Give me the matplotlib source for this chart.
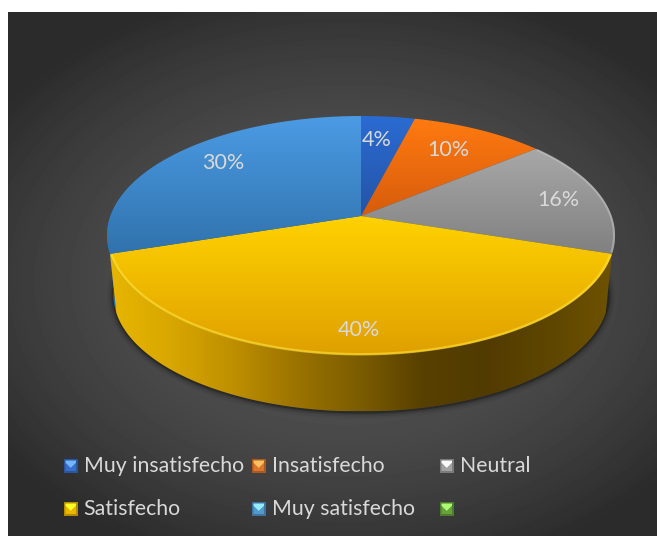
import numpy as np
import matplotlib
matplotlib.use("Agg")
import matplotlib.pyplot as plt
from matplotlib.colors import to_rgb
from matplotlib.patches import Polygon, Rectangle

plt.rcParams['font.family'] = ['Lato', 'DejaVu Sans']

# survey answers, in percent
categories = ["Muy insatisfecho", "Insatisfecho", "Neutral", "Satisfecho", "Muy satisfecho", ""]
values = [4, 10, 16, 40, 30]

# top colour and lower colour of each slice face
top_colors = [("#2b6bd2", "#2454a6"), ("#ff7a10", "#d65c0c"), ("#a8a8a8", "#808080"),
              ("#ffd200", "#dfa000"), ("#4b9be4", "#3072ac")]
legend_colors = ["#3f78dc", "#f08030", "#b0b0b0", "#ffc800", "#5ba5e0", "#70b040"]

# pie geometry in pixels, disc is a circle seen in perspective
CX, CY = 361, 216
R, H, K = 250.6, 116.3, 0.163
LOW_SCALE, LOW_CY = 0.975, 276
TEXT = "#d9d9d9"


def project(theta, scale=1.0, x0=CX, y0=CY):
    t = np.radians(theta)
    u, v = np.sin(t), np.cos(t)
    d = 1 + K * v
    return x0 + scale * R * u / d, y0 - scale * H * v / d


def arc(a, b, scale=1.0, x0=CX, y0=CY):
    return np.column_stack(project(np.linspace(a, b, 120), scale, x0, y0))


def gradient_fill(ax, points, stops, vertical=True):
    # gradient image clipped to a polygon
    xs, ys = points[:, 0], points[:, 1]
    x0, x1, y0, y1 = xs.min(), xs.max(), ys.min(), ys.max()
    pos = np.linspace(0, 1, len(stops))
    rgb = np.array([to_rgb(c) for c in stops])
    t = np.linspace(0, 1, 256)
    ramp = np.column_stack([np.interp(t, pos, rgb[:, i]) for i in range(3)])
    img = ramp[:, None, :] if vertical else ramp[None, :, :]
    im = ax.imshow(img, extent=(x0, x1, y1, y0), origin="upper", aspect="auto",
                   interpolation="bilinear", zorder=3)
    patch = Polygon(points, closed=True, transform=ax.transData, facecolor="none", edgecolor="none")
    ax.add_patch(patch)
    im.set_clip_path(patch)


fig = plt.figure(figsize=(6.57, 5.36), dpi=100, facecolor="white")
ax = fig.add_axes([0, 0, 1, 1])

# dark panel with a soft lighter centre
gx, gy = np.meshgrid(np.arange(8, 657), np.arange(12, 536))
dist = np.sqrt(((gx - 345) / 420) ** 2 + ((gy - 280) / 300) ** 2)
shade = np.clip(0.33 - 0.16 * np.clip(dist, 0, 1) ** 2, 0, 1)
ax.imshow(shade, cmap="gray", vmin=0, vmax=1, extent=(8, 657, 536, 12), aspect="auto", zorder=0)

edges = 360 * np.cumsum([0] + values) / sum(values)

# soft shadow around the base
base = arc(60, 300, LOW_SCALE, CX, LOW_CY)
for lw, alpha in [(9, 0.05), (6, 0.08), (3.5, 0.12), (1.5, 0.25)]:
    ax.plot(base[:, 0], base[:, 1] + 1, color="black", lw=lw, alpha=alpha, zorder=1,
            solid_capstyle="round")

# side walls, only the blue and yellow ones show
blue_wall = np.vstack([arc(edges[4], 300), arc(300, edges[4], LOW_SCALE, CX, LOW_CY)])
ax.add_patch(Polygon(blue_wall, closed=True, facecolor="#2a6ca8", edgecolor="none", zorder=2))
yellow_wall = np.vstack([arc(edges[3], edges[4]), arc(edges[4], edges[3], LOW_SCALE, CX, LOW_CY)])
gradient_fill(ax, yellow_wall, ["#e6b600", "#d8a600", "#bd8e00", "#9a7200", "#7a5c00",
                                "#574000", "#523b00", "#5e4600", "#6e5200"], vertical=False)

# slice faces
for i in range(len(values)):
    face = np.vstack([[CX, CY], arc(edges[i], edges[i + 1])])
    gradient_fill(ax, face, top_colors[i])

# highlights along the rim of the yellow and grey slices
rim = arc(edges[3] + 1, edges[4] - 1, 0.995)
ax.plot(rim[:, 0], rim[:, 1], color="#ffe23a", lw=1.8, alpha=0.6, zorder=4)
rim = arc(edges[2] + 1, edges[3] - 1, 0.996)
ax.plot(rim[:, 0], rim[:, 1], color="#c8c8c8", lw=1.5, alpha=0.5, zorder=4)

# data labels
label_xy = [(377, 140), (448, 150), (558, 200), (359, 330), (223, 163)]
for v, (x, y) in zip(values, label_xy):
    ax.text(x, y, f"{v}%", color=TEXT, fontsize=15.5, ha="center", va="center", zorder=5)

# legend with bevelled markers, three columns and two rows
col_x = [64, 252, 440]
row_y = [459, 502]
M = 13.5
for i, (name, color) in enumerate(zip(categories, legend_colors)):
    x, y = col_x[i % 3], row_y[i // 3]
    c = np.array(to_rgb(color))
    ax.add_patch(Rectangle((x, y), M, M, facecolor=c * 0.7, edgecolor="none", zorder=5))
    ax.add_patch(Polygon([(x + 1.5, y + 1.5), (x + M - 1.5, y + 1.5), (x + M - 1.5, y + 4), (x + M / 2, y + M * 0.68), (x + 1.5, y + 4)],
                         closed=True, facecolor=np.minimum(c * 1.2 + 0.15, 1), edgecolor="none", zorder=6))
    ax.add_patch(Polygon([(x + 1.5, y + M - 1.5), (x + M - 1.5, y + M - 1.5), (x + M - 1.5, y + 4), (x + M / 2, y + M * 0.68), (x + 1.5, y + 4)],
                         closed=True, facecolor=c * 0.92, edgecolor="none", zorder=6))
    ax.text(x + 19.5, y + M / 2, name, color=TEXT, fontsize=15.3, ha="left", va="center", zorder=6)

ax.set_xlim(0, 657)
ax.set_ylim(536, 0)
ax.axis("off")
fig.savefig("out.png", dpi=100, facecolor="white")
